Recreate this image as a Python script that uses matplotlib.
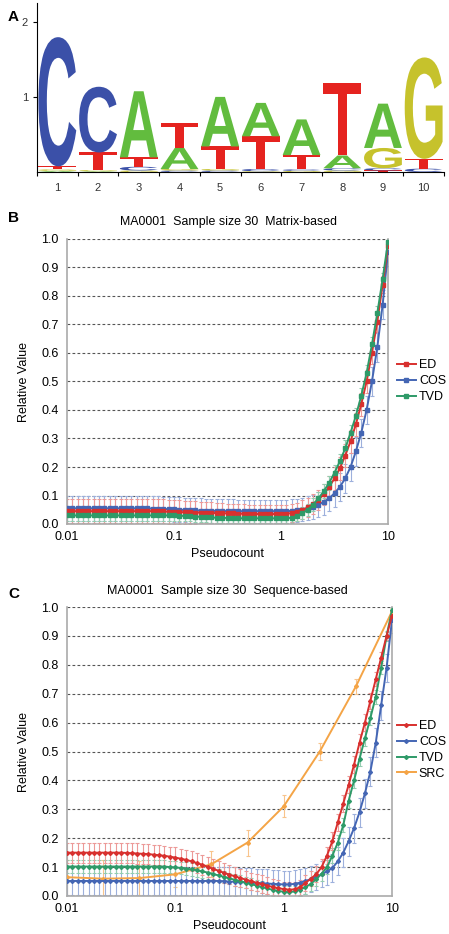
import numpy as np
import matplotlib
matplotlib.use('Agg')
import matplotlib.pyplot as plt
from matplotlib.textpath import TextPath
from matplotlib.patches import PathPatch
from matplotlib.font_manager import FontProperties
from matplotlib.transforms import Affine2D
from matplotlib.lines import Line2D

plt.rcParams['font.family'] = ['Liberation Sans', 'DejaVu Sans']

# ---- panel A: sequence logo (bits per letter, per position) ----
positions = list(range(1, 11))
A_h = [0.015, 0.01, 0.88, 0.28, 0.66, 0.445, 0.475, 0.17, 0.59, 0.0]
C_h = [1.72, 0.875, 0.05, 0.02, 0.02, 0.03, 0.02, 0.03, 0.03, 0.045]
G_h = [0.02, 0.015, 0.02, 0.02, 0.02, 0.01, 0.015, 0.02, 0.27, 1.35]
T_h = [0.04, 0.235, 0.125, 0.33, 0.30, 0.435, 0.19, 0.97, 0.02, 0.13]
letter_colors = {'A': '#62BC3E', 'C': '#3B50A8', 'G': '#C6C22C', 'T': '#E5231F'}

# ---- panel B: matrix-based, 61 pseudocounts 0.01..10 ----
pseudo = np.logspace(-2, 1, 61)
B_ED = [0.045] * 16 + [
    0.045, 0.044, 0.044, 0.043, 0.043, 0.042, 0.041, 0.041, 0.040, 0.040,
    0.039, 0.039, 0.038, 0.038, 0.037, 0.037, 0.036, 0.036, 0.035, 0.035,
    0.035, 0.035, 0.035, 0.035, 0.035,
    0.036, 0.038, 0.043, 0.050, 0.058, 0.070, 0.085, 0.105, 0.130, 0.160,
    0.195, 0.240, 0.290, 0.350, 0.420, 0.500, 0.600, 0.710, 0.840, 0.975]
B_COS = [0.055] * 16 + [
    0.054, 0.054, 0.053, 0.052, 0.051, 0.050, 0.049, 0.048, 0.048, 0.047,
    0.047, 0.046, 0.046, 0.046] + [0.045] * 11 + [
    0.045, 0.046, 0.048, 0.050, 0.055, 0.060, 0.068, 0.078, 0.090, 0.108,
    0.130, 0.160, 0.200, 0.255, 0.320, 0.400, 0.500, 0.620, 0.770, 0.955]
B_TVD = [0.030] * 21 + [
    0.029, 0.028, 0.027, 0.026, 0.025, 0.024, 0.023, 0.022, 0.022, 0.021] + [0.020] * 11 + [
    0.022, 0.028, 0.038, 0.050, 0.068, 0.090, 0.115, 0.145, 0.180, 0.220,
    0.265, 0.320, 0.380, 0.450, 0.530, 0.630, 0.740, 0.860, 0.990]
B_ED_err = [0.042] * 21 + [
    0.041, 0.040, 0.040, 0.039, 0.038, 0.037, 0.037, 0.036, 0.035, 0.034,
    0.034, 0.033, 0.033, 0.032, 0.032, 0.032, 0.032, 0.032, 0.032, 0.032,
    0.032, 0.032, 0.032, 0.033, 0.034, 0.035, 0.036, 0.037, 0.038, 0.039,
    0.040, 0.040, 0.040, 0.040, 0.040, 0.040, 0.038, 0.035, 0.030, 0.020]
B_COS_err = [0.043] * 26 + [
    0.042, 0.042, 0.042, 0.041, 0.041, 0.041, 0.040, 0.040, 0.040, 0.040,
    0.040, 0.040, 0.040, 0.040, 0.040,
    0.040, 0.040, 0.040, 0.041, 0.042, 0.043, 0.044, 0.045, 0.046, 0.047,
    0.048, 0.050, 0.050, 0.050, 0.050, 0.050, 0.050, 0.050, 0.050, 0.050]
B_TVD_err = [0.018] * 41 + [
    0.018, 0.018, 0.019, 0.020, 0.021, 0.022, 0.023, 0.024, 0.025, 0.026,
    0.027, 0.028, 0.028, 0.028, 0.028, 0.028, 0.026, 0.024, 0.020, 0.012]

# ---- panel C: sequence-based ----
C_ED = [0.150] * 11 + [
    0.149, 0.148, 0.147, 0.146, 0.145, 0.143, 0.141, 0.139, 0.136, 0.133,
    0.129, 0.125, 0.120, 0.114, 0.108, 0.101, 0.094, 0.087, 0.080, 0.074,
    0.068, 0.062, 0.057, 0.051, 0.046, 0.041, 0.036, 0.031, 0.027, 0.024,
    0.022, 0.023, 0.030, 0.045, 0.060, 0.075, 0.100, 0.140, 0.190, 0.255,
    0.320, 0.385, 0.455, 0.530, 0.600, 0.675, 0.750, 0.825, 0.900, 0.970]
C_COS = [0.052] * 29 + [
    0.051, 0.050, 0.049, 0.048, 0.047, 0.046, 0.045, 0.044, 0.043, 0.042,
    0.041, 0.040, 0.040,
    0.042, 0.046, 0.052, 0.058, 0.065, 0.075, 0.085, 0.097, 0.120, 0.150,
    0.190, 0.235, 0.290, 0.355, 0.430, 0.530, 0.660, 0.790, 0.955]
C_TVD = [0.102] * 19 + [
    0.100, 0.099, 0.097, 0.095, 0.092, 0.089, 0.085, 0.081, 0.076, 0.071,
    0.066, 0.061, 0.056, 0.051, 0.046, 0.041, 0.036, 0.031, 0.026, 0.021,
    0.017, 0.015, 0.013,
    0.016, 0.022, 0.030, 0.042, 0.058, 0.077, 0.100, 0.140, 0.185, 0.245,
    0.330, 0.400, 0.475, 0.545, 0.615, 0.690, 0.790, 0.900, 0.990]
C_ED_err = [0.035] * 30 + [0.033, 0.032, 0.031, 0.030, 0.030, 0.030, 0.030, 0.029, 0.028, 0.027,
                           0.026, 0.025, 0.025, 0.025, 0.026, 0.027, 0.028, 0.029, 0.030, 0.030,
                           0.030, 0.030, 0.030, 0.030, 0.030, 0.030, 0.028, 0.025, 0.020, 0.015, 0.010]
C_COS_err = [0.050] * 36 + [0.049, 0.049, 0.048, 0.048, 0.048, 0.048, 0.047, 0.046, 0.045, 0.045,
                            0.045, 0.045, 0.046, 0.047, 0.048, 0.049, 0.050, 0.050, 0.050, 0.050,
                            0.050, 0.050, 0.050, 0.048, 0.045]
C_TVD_err = [0.022] * 25 + [0.022, 0.021, 0.021, 0.021, 0.020, 0.020, 0.020, 0.020, 0.020, 0.020,
                            0.020, 0.020, 0.020, 0.020, 0.020, 0.020, 0.020, 0.020, 0.021, 0.022,
                            0.023, 0.024, 0.025, 0.025, 0.025, 0.025, 0.025, 0.025, 0.025, 0.025,
                            0.025, 0.025, 0.024, 0.022, 0.018, 0.010]
src_pseudo = np.logspace(-2, 1, 10)
C_SRC = [0.065, 0.060, 0.062, 0.075, 0.110, 0.185, 0.310, 0.500, 0.725, 0.985]
C_SRC_err = [0.060, 0.065, 0.060, 0.045, 0.045, 0.045, 0.038, 0.028, 0.025, 0.010]

col = {'ED': '#D8302E', 'COS': '#4466B4', 'TVD': '#2E9A68', 'SRC': '#F4A446'}
ecol = {'ED': '#EC9A98', 'COS': '#9DB0DC', 'TVD': '#93CDB0', 'SRC': '#F8C48C'}

fig = plt.figure(figsize=(4.49, 9.34), dpi=100)

# ---------- A ----------
axA = fig.add_axes([37 / 449, 1 - 172 / 934, 407 / 449, 169 / 934])
bold = FontProperties(family='Liberation Sans', weight='bold')
heights = {'A': A_h, 'C': C_h, 'G': G_h, 'T': T_h}


def draw_letter(ax, letter, x, y, w, h, color):
    tp = TextPath((0, 0), letter, size=1, prop=bold)
    bb = tp.get_extents()
    tr = Affine2D().translate(-bb.x0, -bb.y0).scale(w / bb.width, h / bb.height).translate(x - w / 2, y)
    ax.add_patch(PathPatch(tr.transform_path(tp), fc=color, ec='none'))


for i, p in enumerate(positions):
    stack = sorted(heights.items(), key=lambda kv: kv[1][i])
    y0 = 0.0
    for letter, h in stack:
        if h[i] > 0:
            draw_letter(axA, letter, p, y0, 0.93, h[i], letter_colors[letter])
            y0 += h[i]

axA.set_xlim(0.5, 10.5)
axA.set_ylim(0, 2.25)
axA.spines['top'].set_visible(False)
axA.spines['right'].set_visible(False)
axA.set_yticks([1, 2])
axA.set_xticks(np.arange(0.5, 11, 1))
axA.set_xticklabels([])
axA.set_xticks(positions, minor=True)
axA.set_xticklabels([str(p) for p in positions], minor=True)
axA.tick_params(axis='x', which='minor', length=0, labelsize=8, labelcolor='#333333', pad=8)
axA.tick_params(axis='x', which='major', length=3, direction='out')
axA.tick_params(axis='y', length=3, labelsize=8, labelcolor='#333333')
fig.text(8 / 449, 1 - 17 / 934, 'A', fontsize=11, fontweight='bold', va='center')


# ---------- B and C ----------
def setup(ax, width_px, height_px):
    ax.set_xscale('log')
    ax.set_xlim(0.01, 10)
    ax.set_ylim(0, 1.0)
    ax.set_xticks([0.01, 0.1, 1, 10])
    ax.set_xticklabels(['0.01', '0.1', '1', '10'])
    ax.xaxis.set_minor_locator(matplotlib.ticker.NullLocator())
    ax.set_yticks(np.arange(0, 1.01, 0.1))
    ax.set_yticklabels(['%.1f' % v for v in np.arange(0, 1.01, 0.1)])
    ax.tick_params(length=0, labelsize=9)
    ax.tick_params(axis='y', pad=6)
    ax.tick_params(axis='x', pad=5)
    for v in np.arange(0.1, 1.01, 0.1):
        ax.axhline(v, color='#555555', lw=0.8, ls=(0, (2.5, 2)), zorder=0)
    for s in ['left', 'right', 'bottom']:
        ax.spines[s].set_color('#AAAAAA')
        ax.spines[s].set_linewidth(1.2)
    ax.spines['top'].set_visible(False)
    ax.set_ylabel('Relative Value', fontsize=9)
    ax.yaxis.set_label_coords(-37 / width_px, 0.5)
    ax.set_xlabel('Pseudocount', fontsize=9)
    ax.xaxis.set_label_coords(0.5, -24 / height_px)


def series(ax, x, y, err, name, marker, ms):
    ax.errorbar(x, y, yerr=err, fmt='none', ecolor=ecol[name], elinewidth=0.8,
                capsize=1.6, capthick=0.8, zorder=2)
    ax.plot(x, y, color=col[name], lw=1.4, marker=marker, ms=ms, zorder=3)


axB = fig.add_axes([67 / 449, 1 - 524 / 934, 321 / 449, 285 / 934])
setup(axB, 321, 285)
series(axB, pseudo, B_COS, B_COS_err, 'COS', 's', 2.4)
series(axB, pseudo, B_ED, B_ED_err, 'ED', 's', 2.4)
series(axB, pseudo, B_TVD, B_TVD_err, 'TVD', 's', 2.4)
fig.text(228 / 449, 1 - 222 / 934, 'MA0001  Sample size 30  Matrix-based', fontsize=8.9,
         ha='center', va='center')
fig.text(8 / 449, 1 - 218 / 934, 'B', fontsize=11, fontweight='bold', va='center')
hB = [Line2D([], [], color=col[n], lw=1.4, marker='s', ms=2.4) for n in ['ED', 'COS', 'TVD']]
fig.legend(hB, ['ED', 'COS', 'TVD'], loc='center left', bbox_to_anchor=(397 / 449, 1 - 381 / 934),
           frameon=False, fontsize=9, handlelength=1.5, handletextpad=0.25, labelspacing=0.33,
           borderpad=0, borderaxespad=0)

axC = fig.add_axes([67 / 449, 1 - 896 / 934, 325 / 449, 289 / 934])
setup(axC, 325, 289)
series(axC, src_pseudo, C_SRC, C_SRC_err, 'SRC', 'D', 2.0)
series(axC, pseudo, C_COS, C_COS_err, 'COS', 'D', 2.0)
series(axC, pseudo, C_TVD, C_TVD_err, 'TVD', 'D', 2.0)
series(axC, pseudo, C_ED, C_ED_err, 'ED', 'D', 2.0)
fig.text(227 / 449, 1 - 591 / 934, 'MA0001  Sample size 30  Sequence-based', fontsize=9,
         ha='center', va='center')
fig.text(8 / 449, 1 - 594 / 934, 'C', fontsize=11, fontweight='bold', va='center')
hC = [Line2D([], [], color=col[n], lw=1.4, marker='D', ms=2.0) for n in ['ED', 'COS', 'TVD', 'SRC']]
fig.legend(hC, ['ED', 'COS', 'TVD', 'SRC'], loc='center left', bbox_to_anchor=(397 / 449, 1 - 750 / 934),
           frameon=False, fontsize=9, handlelength=1.5, handletextpad=0.25, labelspacing=0.3,
           borderpad=0, borderaxespad=0)

fig.savefig('out.png', dpi=100)
